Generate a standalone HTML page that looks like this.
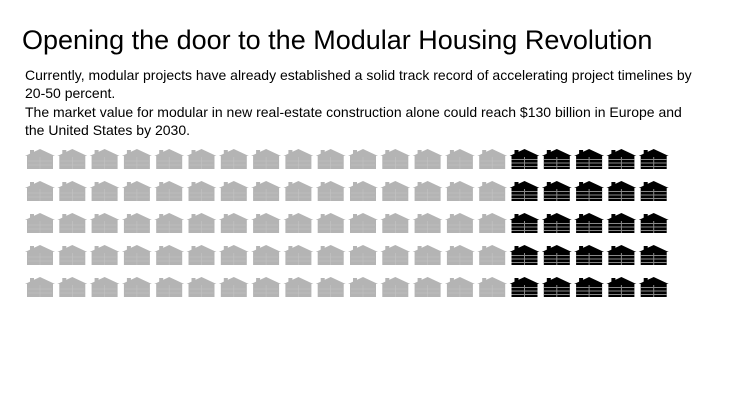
<!DOCTYPE html>
<html><head><style>
body{margin:0;width:730px;height:407px;background:#fff;font-family:"Liberation Sans",sans-serif;position:relative;overflow:hidden}
h1{position:absolute;left:22px;top:25px;margin:0;font-size:27px;font-weight:normal;color:#000;white-space:nowrap}
p{position:absolute;left:25px;margin:0;font-size:14px;line-height:18px;color:#000;width:680px}
</style></head><body>
<h1>Opening the door to the Modular Housing Revolution</h1>
<p style="top:66px">Currently, modular projects have already established a solid track record of accelerating project timelines by 20-50 percent.</p>
<p style="top:103px">The market value for modular in new real-estate construction alone could reach $130 billion in Europe and the United States by 2030.</p>
<svg width="730" height="407" style="position:absolute;left:0;top:0">
<defs>
<g id="g"><polygon points="0,8 15,1 30,8 28,8 28,21 2,21 2,8" fill="#b4b4b4"/><rect x="5" y="2" width="4" height="5" fill="#b4b4b4"/><path d="M15 9V21M3 13H27M3 17H27" stroke="#c4c4c4" stroke-width="0.6"/></g>
<g id="b"><polygon points="0,8 15,1 30,8 28,8 28,21 2,21 2,8" fill="#000"/><rect x="5" y="2" width="4" height="5" fill="#000"/><path d="M15 9V21M2 11.5H28M2 15H28M2 18.5H28" stroke="#888" stroke-width="1"/></g>
</defs>
<g id="rows"></g>
</svg>
<script>
var r=document.getElementById('rows'),s='';
for(var j=0;j<5;j++)for(var i=0;i<20;i++){s+='<use href="#'+(i<15?'g':'b')+'" x="'+(25+i*32.3).toFixed(1)+'" y="'+(148+j*32)+'"/>';}
r.innerHTML=s;
</script>
</body></html>
